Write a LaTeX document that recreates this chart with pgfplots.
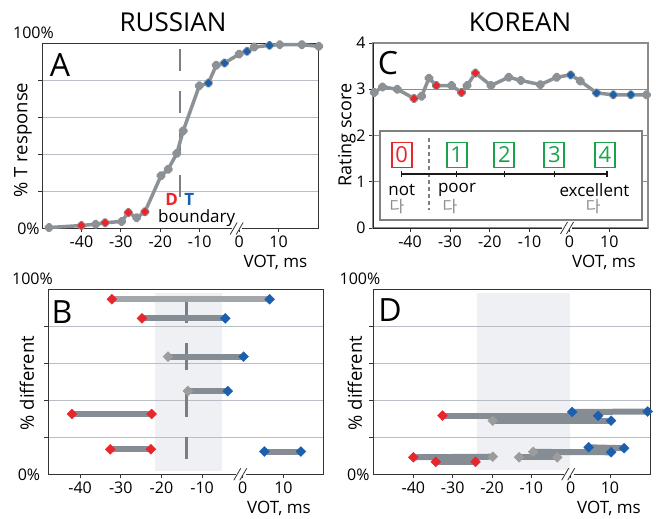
\documentclass[border=0pt]{standalone}
\usepackage{fontspec}
\setmainfont{Open Sans}
\newfontfamily\kr{Noto Sans CJK KR}
\usepackage{pgfplots}
\pgfplotsset{compat=1.18}
\definecolor{dred}{HTML}{E8262B}
\definecolor{dblue}{HTML}{1C5FAD}
\definecolor{lgray}{HTML}{8C9196}
\definecolor{mgray}{HTML}{9C9C9C}
\definecolor{bgray}{HTML}{858C93}
\definecolor{tgray}{HTML}{A3A6A9}
\definecolor{dgray}{HTML}{7A7F85}
\definecolor{gridc}{HTML}{B9BEC6}
\definecolor{shadec}{HTML}{EEF0F3}
\definecolor{dgreen}{HTML}{1AA34A}
\newcommand\fs[1]{\fontsize{#1}{#1}\selectfont}
\pgfplotsset{
 base/.style={scale only axis, anchor=south west, clip=false, set layers,
   axis line style={black!80, line width=0.8pt},
   tick style={black!80, line width=0.8pt},
   tick align=outside, xtick pos=bottom, ytick pos=left,
   major tick length=4pt,
   xtick={-40,-30,-20,-10,0,10}, xticklabels={-40,-30,-20,-10,0,10},
   ticklabel style={font=\fs{16}},
   grid style={gridc, line width=1pt},
 },
 pct/.style={ymin=0,ymax=100, ytick={20,40,60,80}, yticklabels={}, ymajorgrids},
 mk/.style={only marks, mark=square*, mark size=#1, mark options={rotate=45, line width=0.4pt}},
 rmk/.style={mk=#1, color=dred},
 bmk/.style={mk=#1, color=dblue},
 gmk/.style={mk=#1, color=mgray},
 bar/.style={bgray, line width=6pt, no marks},
}
\newcommand\brk{%
 \fill[white] ([xshift=-5pt,yshift=-1.5pt]axis cs:-0.5,0) rectangle ([xshift=5pt,yshift=1.5pt]axis cs:-0.5,0);
 \draw[black!80, line width=0.8pt] ([xshift=-7pt,yshift=-6pt]axis cs:-0.5,0) -- ([xshift=0pt,yshift=6pt]axis cs:-0.5,0);
 \draw[black!80, line width=0.8pt] ([xshift=-1pt,yshift=-6pt]axis cs:-0.5,0) -- ([xshift=6pt,yshift=6pt]axis cs:-0.5,0);}
\begin{document}
\begin{tikzpicture}[x=1pt,y=1pt]
% ---------------- A
\begin{axis}[base, pct, at={(42pt,289.5pt)}, width=276pt, height=185.5pt, xmin=-50, xmax=20]
\draw[dgray, line width=2.5pt, dash pattern=on 22pt off 20pt] (axis cs:-15,96.5) -- (axis cs:-15,13.6);
\addplot[lgray, line width=3.5pt, line join=round, mark=square*, mark size=2.2pt, mark options={rotate=45, fill=lgray, draw=lgray}] coordinates {
(-48.2,0.5)(-40,1.6)(-36.4,2.3)(-34,3.1)(-29.8,3.8)(-28.1,8.6)(-26,5.8)(-23.9,9)
(-19.8,28.5)(-18,31.9)(-15.8,40.5)(-14.2,52.6)(-10.1,76.9)(-7.8,78.4)(-5.8,88)
(-3.7,89.2)(0,94)(2,95.5)(3.8,97.8)(7.7,98.7)(10.3,99.1)(15.9,99.1)(20.2,98.2)};
\addplot[rmk=2.6pt] coordinates {(-40,1.6)(-34,3.1)(-28.1,8.6)(-23.9,9)};
\addplot[bmk=2.6pt] coordinates {(-7.8,78.4)(-3.7,89.2)(2,95.5)(7.7,98.7)};
\brk
\end{axis}
% ---------------- C
\begin{axis}[base, at={(373pt,290pt)}, width=275pt, height=185pt, xmin=-49.3, xmax=19.7,
  ymin=0, ymax=4, ytick={0,1,2,3,4}, yticklabels={0,1,2,3,4}, ymajorgrids,
  grid style={black!45, line width=1.2pt}, axis line style={black!45, line width=1.2pt}]
\draw[black!85, line width=0.9pt] (rel axis cs:0,0) -- (rel axis cs:0,1);
\draw[black!85, line width=0.9pt] (rel axis cs:0,0) -- (rel axis cs:1,0);
\addplot[lgray, line width=3.5pt, line join=round, mark=square*, mark size=2.2pt, mark options={rotate=45, fill=lgray, draw=lgray}] coordinates {
(-49,2.93)(-46.9,3.05)(-43.2,3.0)(-39,2.80)(-37.1,2.85)(-35.25,3.24)(-33.4,3.08)
(-29.6,3.08)(-27.1,2.93)(-25.7,3.08)(-23.6,3.35)(-19.7,3.08)(-15.25,3.26)(-12.2,3.19)
(-7.3,3.10)(-3.2,3.26)(0.3,3.31)(2.7,3.18)(6.8,2.92)(11,2.88)(15.4,2.88)(19.3,2.88)};
\addplot[rmk=2.6pt] coordinates {(-39,2.80)(-33.4,3.08)(-27.1,2.93)(-23.6,3.35)};
\addplot[bmk=2.6pt] coordinates {(0.3,3.31)(6.8,2.92)(11,2.88)(15.4,2.88)};
\brk
\end{axis}
% ---------------- B
\begin{axis}[base, pct, at={(48pt,43.7pt)}, width=275.3pt, height=185pt, xmin=-47.9, xmax=19.8]
\begin{pgfonlayer}{axis background}
\fill[shadec] (axis cs:-21.6,2) rectangle (axis cs:-5.2,97.8);
\end{pgfonlayer}
\draw[dgray, line width=2.5pt, dash pattern=on 27pt off 20pt] (axis cs:-13.8,96.4) -- (axis cs:-13.8,8.3);
\addplot[bar, tgray] coordinates {(-32.2,94.6)(6.6,94.6)};
\addplot[bar] coordinates {(-24.8,84.3)(-4.3,84.3)};
\addplot[bar] coordinates {(-18.4,63.6)(0.2,63.6)};
\addplot[bar] coordinates {(-13.5,45)(-3.7,45)};
\addplot[bar] coordinates {(-42,32.6)(-22.4,32.6)};
\addplot[bar] coordinates {(-32.6,13.5)(-22.6,13.5)};
\addplot[bar] coordinates {(5.3,12.3)(14.3,12.3)};
\addplot[gmk=3.5pt] coordinates {(-18.4,63.6)(-13.5,45)};
\addplot[rmk=3.5pt] coordinates {(-32.2,94.6)(-24.8,84.3)(-42,32.6)(-22.4,32.6)(-32.6,13.5)(-22.6,13.5)};
\addplot[bmk=3.5pt] coordinates {(6.6,94.6)(-4.3,84.3)(0.2,63.6)(-3.7,45)(5.3,12.3)(14.3,12.3)};
\brk
\end{axis}
% ---------------- D
\begin{axis}[base, pct, at={(373.3pt,43.7pt)}, width=276.7pt, height=185pt, xmin=-50.2, xmax=20.2]
\begin{pgfonlayer}{axis background}
\fill[shadec] (axis cs:-23.9,2.3) rectangle (axis cs:-0.2,97.8);
\end{pgfonlayer}
\addplot[bar] coordinates {(0.4,33.7)(19.6,33.9)};
\addplot[bar] coordinates {(-32.6,31.7)(7.0,31.7)};
\addplot[bar] coordinates {(-19.8,29)(10.3,29)};
\addplot[bar] coordinates {(4.6,14.6)(13.6,14.1)};
\addplot[bar] coordinates {(-9.5,12.1)(10.3,11.9)};
\addplot[bar] coordinates {(-40,9.2)(-19.8,9.5)};
\addplot[bar] coordinates {(-13.1,9.2)(-3.4,9.2)};
\addplot[bar] coordinates {(-34.3,6.7)(-24.2,6.7)};
\addplot[gmk=3.5pt] coordinates {(-19.8,29)(-19.8,9.5)(-13.1,9.2)(-9.5,12.1)(-3.4,9.2)};
\addplot[rmk=3.5pt] coordinates {(-32.6,31.7)(-40,9.2)(-34.3,6.7)(-24.2,6.7)};
\addplot[bmk=3.5pt] coordinates {(0.4,33.7)(7.0,31.7)(10.3,29)(19.6,33.9)(4.6,14.6)(10.3,11.9)(13.6,14.1)};
\brk
\end{axis}
% ---------------- texts
\node[font=\fs{26}] at (173,496) {RUSSIAN};
\node[font=\fs{26}] at (520,496) {KOREAN};
\node[font=\fs{32}] at (60,453) {A};
\node[font=\fs{32}] at (388,455) {C};
\node[font=\fs{32}] at (62,206) {B};
\node[font=\fs{32}] at (390,208) {D};
\node[font=\fs{18.5}, rotate=90] at (23,378) {\% T response};
\node[font=\fs{18}, rotate=90] at (347,383) {Rating score};
\node[font=\fs{18.5}, rotate=90] at (27,135) {\% different};
\node[font=\fs{18.5}, rotate=90] at (355,135) {\% different};
\node[font=\fs{17}] at (275.5,256) {VOT, ms};
\node[font=\fs{17}] at (604,256) {VOT, ms};
\node[font=\fs{17}] at (279,10) {VOT, ms};
\node[font=\fs{17}] at (609,10) {VOT, ms};
\node[font=\fs{16}] at (33.5,485) {100\%};
\node[font=\fs{16}] at (28.5,289.5) {0\%};
\node[font=\fs{16}] at (32.5,239) {100\%};
\node[font=\fs{16}] at (29,43) {0\%};
\node[font=\fs{16}] at (360,239) {100\%};
\node[font=\fs{16}] at (358.3,43) {0\%};
\node[font=\bfseries\fs{17}, text=dred] at (171.7,318.7) {D};
\node[font=\bfseries\fs{17}, text=dblue] at (189.3,318.7) {T};
\node[font=\fs{17}] at (196.7,300) {boundary};
% legend in C
\draw[black!50, line width=2.5pt, fill=white] (380,387) rectangle (642,298);
\draw[black!50, line width=1.8pt, dash pattern=on 4pt off 3pt] (429.3,380) -- (429.3,308);
\draw[black!90, line width=1.8pt] (401.7,343.7) -- (607,343.7);
\foreach \x in {401.7,456.7,504.3,554.3,607} \draw[black!90, line width=1.5pt] (\x,340.5) -- (\x,347);
\foreach \x/\n in {456.7/1,504.3/2,554.3/3,605/4}
  \node[draw=dgreen, line width=1.8pt, text=dgreen, font=\fs{22}, minimum width=20pt, minimum height=25pt, inner sep=0pt] at (\x,363) {\n};
\node[draw=dred, line width=1.8pt, text=dred, font=\fs{22}, minimum width=20pt, minimum height=25pt, inner sep=0pt] at (401.7,363) {0};
\node[font=\fs{17}] at (401.7,328) {not};
\node[font=\fs{17}] at (457,328) {poor};
\node[font=\fs{17}] at (594.5,328) {excellent};
\node[font=\kr\fs{16}, text=black!45] at (397,311) {다};
\node[font=\kr\fs{16}, text=black!45] at (450,311) {다};
\node[font=\kr\fs{16}, text=black!45] at (593.3,311) {다};
\path (0,0) rectangle (656,518);
\end{tikzpicture}
\end{document}
